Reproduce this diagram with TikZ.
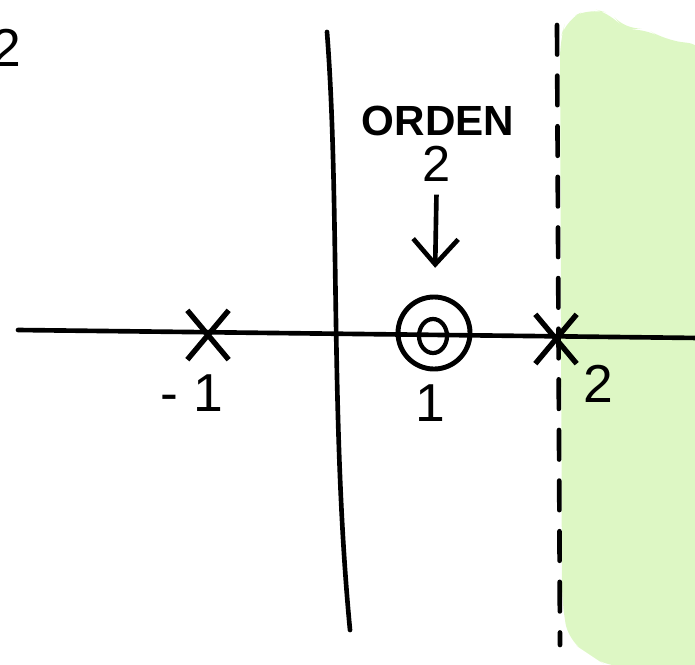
\documentclass[tikz,border=0pt]{standalone}
\usepackage{fontspec}
\setmainfont{Liberation Sans}
\usetikzlibrary{shapes,arrows.meta}
\definecolor{verde}{RGB}{221,247,196}

\begin{document}
\begin{tikzpicture}[x=0.025cm, y=-0.025cm,
      trazo/.style={line width=3.3pt, line cap=round},
      cruz/.style={cross out, draw, line width=3.8pt, inner sep=0pt, minimum width=0.9cm, minimum height=1.1cm},
      etiq/.style={inner sep=0pt, font=\fontsize{38}{40}\selectfont},
      arr/.style={-{Straight Barb[length=18pt, width=32pt, line width=3.3pt]}, line width=3.3pt}
    ]
    \useasboundingbox (0,0) rectangle (695,664);
    % semiplano inestable
    \fill[verde, rounded corners=12] (560,40) -- (566,20) -- (590,8) -- (612,14) -- (625,30) -- (645,28)
      -- (665,40) -- (705,45) -- (705,670) -- (640,664) -- (610,668) -- (590,655) -- (568,640) -- (562,600) -- cycle;
    \coordinate (ejeizq) at (18,330);
    \coordinate (ejeder) at (700,338);
    \draw[trazo] (ejeizq) -- (ejeder);
    \draw[trazo] (327,32) .. controls (340,200) and (330,420) .. (350,630);
    \draw[trazo, dash pattern=on 21pt off 15pt] (557,25) -- (560,645);
    \node[cruz] (polom1) at (208,335) {};
    \node[cruz] (polo2) at (556,339) {};
    \node[circle, draw, line width=3.5pt, minimum size=1.8cm] (cero) at (434,333) {};
    \node[ellipse, draw, line width=3pt, minimum width=0.7cm, minimum height=0.85cm] (ceroin) at (433,336) {};
    \node[etiq] (lm1) at (192,393) {- 1};
    \node[etiq] (l1) at (430,403) {1};
    \node[etiq] (l2) at (598,384) {2};
    \node[etiq] (esq) at (6,48) {2};
    \node[etiq, font=\fontsize{30}{32}\selectfont\bfseries] (orden) at (438,121) {ORDEN};
    \node[etiq, font=\fontsize{36}{38}\selectfont] (ordendos) at (437,164) {2};
    \draw[arr, shorten <=9pt, shorten >=19pt] (ordendos) -- (cero);
  \end{tikzpicture}
\end{document}
